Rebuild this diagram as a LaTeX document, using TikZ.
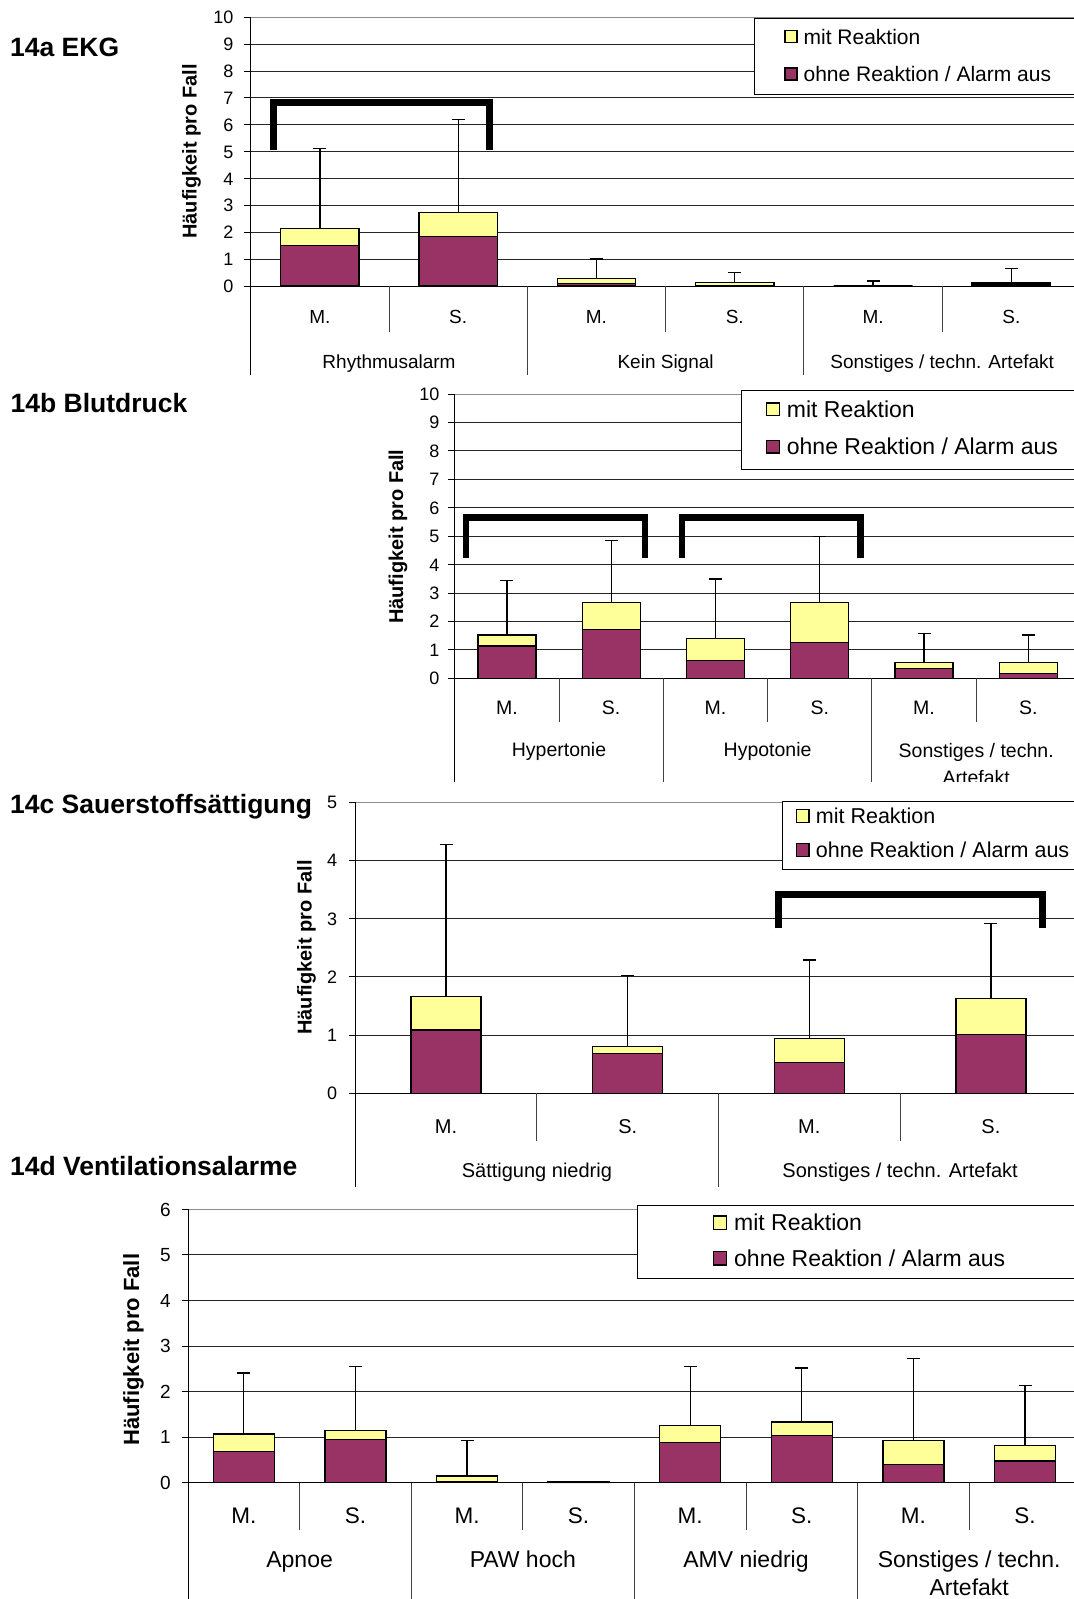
\documentclass[tikz,border=0pt]{standalone}
\usepackage{fontspec}
\setmainfont{Liberation Sans}
\definecolor{yel}{HTML}{FFFF99}
\definecolor{pur}{HTML}{993366}
\tikzset{
 gridl/.style={line width=0.9pt, draw=black!85},
 topl/.style={line width=0.9pt, draw=black!45},
 axisl/.style={line width=1pt, draw=black},
 sepl/.style={line width=1pt, draw=black!75},
 barl/.style={line width=1.3pt, draw=black},
 errl/.style={line width=1.3pt, draw=black},
 brk/.style={line width=6.5pt, draw=black, line join=miter},
 legbox/.style={line width=1pt, draw=black, fill=white},
 legsq/.style={line width=1.2pt, draw=black},
 fs/.style={font=\fontsize{#1}{#1}\selectfont, inner sep=0pt, text height={0.72*#1pt}, text depth=0pt},
 fsb/.style={font=\fontsize{#1}{#1}\selectfont\bfseries, inner sep=0pt, text height={0.72*#1pt}, text depth=0pt},
}
% #1 category index, #2 purple, #3 total, #4 error top
\newcommand{\stackbar}[4]{%
  \pgfmathsetmacro{\cx}{\ax+\cw*(#1+0.5)}%
  \pgfmathsetmacro{\xl}{\cx-\bw/2}%
  \pgfmathsetmacro{\xr}{\cx+\bw/2}%
  \pgfmathsetmacro{\yp}{\yz-\un*#2}%
  \pgfmathsetmacro{\yt}{\yz-\un*#3}%
  \pgfmathsetmacro{\ye}{\yz-\un*#4}%
  \draw[errl] (\cx,\yt) -- (\cx,\ye);
  \draw[errl] ({\cx-6.5},\ye) -- ({\cx+6.5},\ye);
  \filldraw[barl, fill=yel] (\xl,\yz) rectangle (\xr,\yt);
  \filldraw[barl, fill=pur] (\xl,\yz) rectangle (\xr,\yp);
}
% #1 left, #2 top, #3 bottom, #4 square x, #5 square size, #6 text x, #7 y1, #8 y2, #9 font size
\newcommand{\legendbox}[9]{%
  \draw[legbox] (#1,#2) rectangle (1090,#3);
  \filldraw[legsq, fill=yel] (#4,{#7-#5/2}) rectangle ({#4+#5},{#7+#5/2});
  \filldraw[legsq, fill=pur] (#4,{#8-#5/2}) rectangle ({#4+#5},{#8+#5/2});
  \node[fs=#9, anchor=west] at (#6,#7) {mit Reaktion};
  \node[fs=#9, anchor=west] at (#6,#8) {ohne Reaktion / Alarm aus};
}
\begin{document}
\begin{tikzpicture}[x=1pt,y=-1pt]
\useasboundingbox (0,0) rectangle (1074,1599);
\clip (0,0) rectangle (1074,1599);

%% ---------------- Panel a ----------------
\def\ax{250.7}\def\yz{286}\def\un{26.87}\def\cw{138.3}\def\bw{78.5}
\foreach \v in {1,...,9} \draw[gridl] (\ax,{\yz-\un*\v}) -- (1074,{\yz-\un*\v});
\draw[topl] (\ax,{\yz-\un*10}) -- (1074,{\yz-\un*10});
\foreach \v in {0,...,10} {
  \draw[axisl] ({\ax-6.5},{\yz-\un*\v}) -- (\ax,{\yz-\un*\v});
  \node[fs=18, anchor=east] (tka\v) at ({\ax-17},{\yz-\un*\v}) {\v};
}
\draw[axisl] (\ax,{\yz-\un*10}) -- (\ax,375);
\draw[axisl] (\ax,\yz) -- (1074,\yz);
\foreach \k in {1,...,5} {
  \pgfmathsetmacro{\sx}{\ax+\cw*\k}
  \ifodd\k\relax \draw[sepl] (\sx,\yz) -- (\sx,332); \else \draw[sepl] (\sx,\yz) -- (\sx,375); \fi
}
\stackbar{0}{1.50}{2.14}{5.11}
\stackbar{1}{1.83}{2.73}{6.20}
\stackbar{2}{0.10}{0.27}{1.01}
\stackbar{3}{0.00}{0.12}{0.51}
\stackbar{4}{0.00}{0.00}{0.19}
\stackbar{5}{0.05}{0.13}{0.65}
\filldraw[barl, fill=black] ({\ax+\cw*5.5-\bw/2},\yz) rectangle ({\ax+\cw*5.5+\bw/2},{\yz-\un*0.13});
\foreach \k/\t in {0/M.,1/S.,2/M.,3/S.,4/M.,5/S.}
  \node[fs=19] (cata\k) at ({\ax+\cw*(\k+0.5)},316.7) {\t};
\node[fs=19] (ga1) at ({\ax+\cw*1},361.7) {Rhythmusalarm};
\node[fs=19] (ga2) at ({\ax+\cw*3},361.7) {Kein Signal};
\node[fs=19] (ga3) at ({\ax+\cw*5},361.7) {Sonstiges / techn. Artefakt};
\draw[brk] (273.7,150) -- (273.7,102.5) -- (489.6,102.5) -- (489.6,150);
\legendbox{754.2}{18.3}{94.3}{785}{12}{803.4}{36.7}{74}{21}
\node[fsb=26.5, anchor=west] (tia) at (10,46.7) {14a EKG};
\node[fsb=20, rotate=90] (yla) at (189.3,151.5) {Häufigkeit pro Fall};

%% ---------------- Panel b ----------------
\begin{scope}
\clip (0,380) rectangle (1074,781.7);
\def\ax{454.7}\def\yz{678.3}\def\un{28.43}\def\cw{104.3}\def\bw{58}
\foreach \v in {1,...,9} \draw[gridl] (\ax,{\yz-\un*\v}) -- (1074,{\yz-\un*\v});
\draw[topl] (\ax,{\yz-\un*10}) -- (1074,{\yz-\un*10});
\foreach \v in {0,...,10} {
  \draw[axisl] ({\ax-6.5},{\yz-\un*\v}) -- (\ax,{\yz-\un*\v});
  \node[fs=18, anchor=east] (tkb\v) at ({\ax-15},{\yz-\un*\v}) {\v};
}
\draw[axisl] (\ax,{\yz-\un*10}) -- (\ax,790);
\draw[axisl] (\ax,\yz) -- (1074,\yz);
\foreach \k in {1,...,5} {
  \pgfmathsetmacro{\sx}{\ax+\cw*\k}
  \ifodd\k\relax \draw[sepl] (\sx,\yz) -- (\sx,721.7); \else \draw[sepl] (\sx,\yz) -- (\sx,790); \fi
}
\stackbar{0}{1.14}{1.52}{3.43}
\stackbar{1}{1.72}{2.67}{4.84}
\stackbar{2}{0.62}{1.41}{3.49}
\stackbar{3}{1.27}{2.67}{4.98}
\stackbar{4}{0.35}{0.56}{1.58}
\stackbar{5}{0.18}{0.56}{1.52}
\foreach \k/\t in {0/M.,1/S.,2/M.,3/S.,4/M.,5/S.}
  \node[fs=19.5] (catb\k) at ({\ax+\cw*(\k+0.5)},707) {\t};
\node[fs=19.5] (gb1) at ({\ax+\cw*1},749.5) {Hypertonie};
\node[fs=19.5] (gb2) at ({\ax+\cw*3},749.5) {Hypotonie};
\node[fs=19.5] (gb3) at ({\ax+\cw*5},750.5) {Sonstiges / techn.};
\node[fs=19.5] (gb3b) at ({\ax+\cw*5},777.5) {Artefakt};
\draw[brk] (466,557.7) -- (466,517.3) -- (645,517.3) -- (645,557.7);
\draw[brk] (682,557.7) -- (682,517.3) -- (860.7,517.3) -- (860.7,557.7);
\legendbox{741.7}{390}{469.3}{766.7}{12.6}{786.7}{409.3}{446.7}{23}
\end{scope}
\node[fsb=26.5, anchor=west] (tib) at (10.5,403.3) {14b Blutdruck};
\node[fsb=20, rotate=90] (ylb) at (396,536.7) {Häufigkeit pro Fall};

%% ---------------- Panel c ----------------
\def\ax{355.3}\def\yz{1093.3}\def\un{58.2}\def\cw{181.6}\def\bw{70}
\foreach \v in {1,...,4} \draw[gridl] (\ax,{\yz-\un*\v}) -- (1074,{\yz-\un*\v});
\draw[topl] (\ax,{\yz-\un*5}) -- (1074,{\yz-\un*5});
\foreach \v in {0,...,5} {
  \draw[axisl] ({\ax-6.5},{\yz-\un*\v}) -- (\ax,{\yz-\un*\v});
  \node[fs=18, anchor=east] (tkc\v) at ({\ax-18},{\yz-\un*\v}) {\v};
}
\draw[axisl] (\ax,{\yz-\un*5}) -- (\ax,1186.7);
\draw[axisl] (\ax,\yz) -- (1074,\yz);
\foreach \k in {1,...,3} {
  \pgfmathsetmacro{\sx}{\ax+\cw*\k}
  \ifodd\k\relax \draw[sepl] (\sx,\yz) -- (\sx,1140.7); \else \draw[sepl] (\sx,\yz) -- (\sx,1186.7); \fi
}
\stackbar{0}{1.09}{1.66}{4.28}
\stackbar{1}{0.69}{0.81}{2.02}
\stackbar{2}{0.53}{0.94}{2.29}
\stackbar{3}{1.01}{1.63}{2.92}
\foreach \k/\t in {0/M.,1/S.,2/M.,3/S.}
  \node[fs=20] (catc\k) at ({\ax+\cw*(\k+0.5)},1126) {\t};
\node[fs=20] (gc1) at ({\ax+\cw*1},1170) {Sättigung niedrig};
\node[fs=20] (gc2) at ({\ax+\cw*3},1170) {Sonstiges / techn. Artefakt};
\draw[brk] (778.3,928.3) -- (778.3,894.3) -- (1042.3,894.3) -- (1042.3,928.3);
\legendbox{782.3}{801.7}{869}{796.7}{12.3}{815.7}{816}{850}{21.5}
\node[fsb=26.5, anchor=west] (tic) at (10,803.8) {14c Sauerstoffsättigung};
\node[fsb=20, rotate=90] (ylc) at (304.5,947.5) {Häufigkeit pro Fall};

%% ---------------- Panel d ----------------
\def\ax{188}\def\yz{1482.7}\def\un{45.56}\def\cw{111.6}\def\bw{61}
\foreach \v in {1,...,5} \draw[gridl] (\ax,{\yz-\un*\v}) -- (1074,{\yz-\un*\v});
\draw[topl] (\ax,{\yz-\un*6}) -- (1074,{\yz-\un*6});
\foreach \v in {0,...,6} {
  \draw[axisl] ({\ax-6.5},{\yz-\un*\v}) -- (\ax,{\yz-\un*\v});
  \node[fs=19, anchor=east] (tkd\v) at ({\ax-17},{\yz-\un*\v}) {\v};
}
\draw[axisl] (\ax,{\yz-\un*6}) -- (\ax,1600);
\draw[axisl] (\ax,\yz) -- (1074,\yz);
\foreach \k in {1,...,7} {
  \pgfmathsetmacro{\sx}{\ax+\cw*\k}
  \ifodd\k\relax \draw[sepl] (\sx,\yz) -- (\sx,1530); \else \draw[sepl] (\sx,\yz) -- (\sx,1600); \fi
}
\stackbar{0}{0.69}{1.07}{2.41}
\stackbar{1}{0.95}{1.14}{2.55}
\stackbar{2}{0.03}{0.15}{0.92}
\stackbar{3}{0.00}{0.02}{0.02}
\stackbar{4}{0.88}{1.25}{2.55}
\stackbar{5}{1.03}{1.33}{2.52}
\stackbar{6}{0.40}{0.92}{2.73}
\stackbar{7}{0.48}{0.81}{2.14}
\foreach \k/\t in {0/M.,1/S.,2/M.,3/S.,4/M.,5/S.,6/M.,7/S.}
  \node[fs=22.5] (catd\k) at ({\ax+\cw*(\k+0.5)},1515) {\t};
\node[fs=23] (gd1) at ({\ax+\cw*1},1559.3) {Apnoe};
\node[fs=23] (gd2) at ({\ax+\cw*3},1559.3) {PAW hoch};
\node[fs=23] (gd3) at ({\ax+\cw*5},1559.3) {AMV niedrig};
\node[fs=23] (gd4) at ({\ax+\cw*7},1559.3) {Sonstiges / techn.};
\node[fs=23] (gd4b) at ({\ax+\cw*7},1586.7) {Artefakt};
\legendbox{637.3}{1205.7}{1278.3}{713.3}{13.3}{734}{1222.7}{1258.3}{23}
\node[fsb=26.5, anchor=west] (tid) at (10,1165.8) {14d Ventilationsalarme};
\node[fsb=22, rotate=90] (yld) at (131.3,1349.7) {Häufigkeit pro Fall};
\end{tikzpicture}
\end{document}
